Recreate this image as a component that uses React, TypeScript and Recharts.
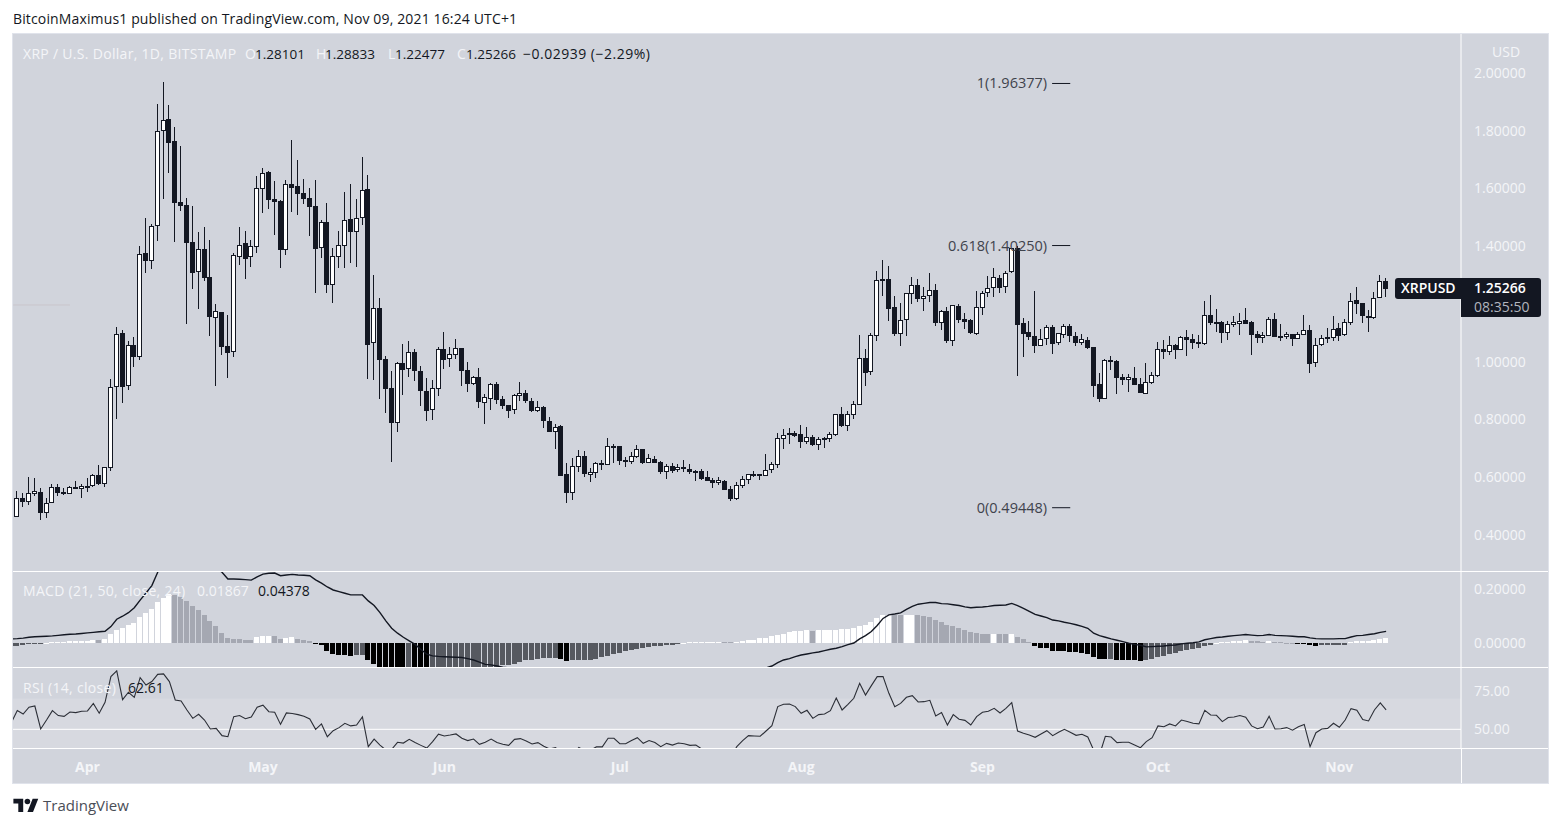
import {
  Bar,
  ComposedChart,
  Line,
  ReferenceArea,
  ReferenceLine,
  XAxis,
  YAxis,
} from 'recharts'

const opens = [
  0.464, 0.527, 0.515, 0.543, 0.548, 0.477, 0.51, 0.565, 0.548, 0.543,
  0.565, 0.56, 0.57, 0.571, 0.607, 0.578, 0.633, 0.914, 1.098, 0.917,
  1.057, 1.018, 1.375, 1.35, 1.469, 1.798, 1.84, 1.763, 1.552, 1.542,
  1.414, 1.312, 1.389, 1.292, 1.153, 1.171, 1.053, 1.035, 1.364, 1.41,
  1.362, 1.399, 1.599, 1.656, 1.564, 1.557, 1.388, 1.616, 1.609, 1.584,
  1.567, 1.539, 1.395, 1.484, 1.267, 1.364, 1.402, 1.494, 1.45, 1.499,
  1.598, 1.066, 1.186, 1.01, 0.909, 0.789, 0.996, 0.976, 1.034, 0.968,
  0.899, 0.834, 0.907, 1.044, 1.011, 1.025, 1.048, 0.971, 0.924, 0.947,
  0.858, 0.872, 0.922, 0.87, 0.849, 0.834, 0.883, 0.891, 0.863, 0.831,
  0.842, 0.794, 0.758, 0.776, 0.61, 0.547, 0.637, 0.672, 0.609, 0.616,
  0.648, 0.644, 0.707, 0.707, 0.66, 0.654, 0.671, 0.697, 0.65, 0.662,
  0.652, 0.619, 0.638, 0.626, 0.635, 0.627, 0.622, 0.62, 0.6, 0.589,
  0.581, 0.586, 0.558, 0.526, 0.571, 0.592, 0.61, 0.61, 0.605, 0.624,
  0.644, 0.731, 0.752, 0.752, 0.749, 0.723, 0.738, 0.713, 0.735, 0.734,
  0.747, 0.818, 0.779, 0.817, 0.851, 1.012, 0.966, 1.09, 1.285, 1.285,
  1.188, 1.097, 1.146, 1.236, 1.265, 1.216, 1.229, 1.247, 1.135, 1.175,
  1.073, 1.192, 1.147, 1.143, 1.097, 1.185, 1.237, 1.254, 1.289, 1.258,
  1.31, 1.393, 1.133, 1.102, 1.088, 1.056, 1.078, 1.119, 1.066, 1.094,
  1.123, 1.088, 1.066, 1.074, 1.05, 0.922, 0.872, 1.005, 1.001, 0.946,
  0.938, 0.943, 0.922, 0.889, 0.926, 0.952, 1.043, 1.035, 1.057, 1.042,
  1.085, 1.078, 1.067, 1.063, 1.161, 1.137, 1.137, 1.101, 1.128, 1.132,
  1.143, 1.137, 1.096, 1.083, 1.09, 1.147, 1.089, 1.087, 1.095, 1.08,
  1.094, 1.109, 0.997, 1.059, 1.083, 1.083, 1.116, 1.093, 1.135, 1.213,
  1.202, 1.157, 1.153, 1.222, 1.28101,
]

const highs = [
  0.554, 0.544, 0.602, 0.597, 0.562, 0.527, 0.577, 0.577, 0.562, 0.57,
  0.587, 0.575, 0.597, 0.61, 0.641, 0.634, 0.94, 1.12, 1.11, 1.072,
  1.086, 1.401, 1.498, 1.477, 1.893, 1.969, 1.889, 1.813, 1.747, 1.567,
  1.539, 1.448, 1.467, 1.422, 1.2, 1.171, 1.162, 1.377, 1.467, 1.453,
  1.422, 1.643, 1.671, 1.661, 1.626, 1.56, 1.629, 1.768, 1.699, 1.633,
  1.602, 1.629, 1.491, 1.55, 1.394, 1.453, 1.588, 1.616, 1.564, 1.709,
  1.647, 1.3, 1.221, 1.02, 0.968, 1.0, 1.061, 1.072, 1.044, 0.985,
  0.944, 0.937, 1.051, 1.103, 1.051, 1.079, 1.048, 1.0, 0.951, 0.978,
  0.888, 0.925, 0.93, 0.881, 0.849, 0.888, 0.93, 0.902, 0.874, 0.864,
  0.847, 0.809, 0.784, 0.781, 0.649, 0.667, 0.694, 0.691, 0.632, 0.653,
  0.66, 0.736, 0.715, 0.708, 0.67, 0.687, 0.712, 0.697, 0.68, 0.674,
  0.656, 0.646, 0.649, 0.646, 0.66, 0.646, 0.625, 0.627, 0.622, 0.597,
  0.601, 0.59, 0.57, 0.583, 0.604, 0.612, 0.622, 0.61, 0.68, 0.653,
  0.753, 0.767, 0.771, 0.76, 0.781, 0.774, 0.746, 0.741, 0.739, 0.757,
  0.818, 0.843, 0.828, 0.863, 1.093, 1.044, 1.1, 1.314, 1.352, 1.332,
  1.228, 1.203, 1.237, 1.294, 1.287, 1.259, 1.307, 1.269, 1.179, 1.19,
  1.195, 1.2, 1.169, 1.148, 1.245, 1.245, 1.297, 1.325, 1.3, 1.314,
  1.393, 1.402, 1.152, 1.141, 1.245, 1.112, 1.126, 1.126, 1.098, 1.13,
  1.13, 1.103, 1.096, 1.085, 1.05, 0.961, 1.01, 1.02, 1.006, 0.958,
  0.958, 0.982, 0.944, 0.996, 0.964, 1.068, 1.075, 1.089, 1.061, 1.089,
  1.11, 1.096, 1.093, 1.21, 1.231, 1.183, 1.14, 1.141, 1.158, 1.169,
  1.186, 1.141, 1.106, 1.103, 1.155, 1.169, 1.131, 1.103, 1.095, 1.103,
  1.162, 1.127, 1.082, 1.093, 1.117, 1.158, 1.134, 1.148, 1.238, 1.259,
  1.202, 1.178, 1.242, 1.3, 1.28833,
]

const lows = [
  0.464, 0.498, 0.504, 0.535, 0.452, 0.459, 0.51, 0.535, 0.539, 0.543,
  0.56, 0.528, 0.549, 0.567, 0.573, 0.566, 0.622, 0.802, 0.858, 0.902,
  0.983, 1.006, 1.309, 1.321, 1.418, 1.564, 1.655, 1.415, 1.523, 1.131,
  1.252, 1.183, 1.281, 1.089, 0.916, 1.023, 0.944, 1.018, 1.335, 1.287,
  1.328, 1.377, 1.515, 1.529, 1.439, 1.325, 1.37, 1.519, 1.508, 1.546,
  1.436, 1.238, 1.359, 1.238, 1.203, 1.325, 1.325, 1.342, 1.328, 1.474,
  0.94, 0.937, 0.871, 0.823, 0.653, 0.757, 0.885, 0.947, 0.933, 0.847,
  0.795, 0.798, 0.881, 0.975, 0.982, 1.01, 0.916, 0.895, 0.919, 0.84,
  0.784, 0.833, 0.854, 0.836, 0.805, 0.819, 0.864, 0.857, 0.826, 0.826,
  0.771, 0.757, 0.698, 0.604, 0.511, 0.521, 0.618, 0.601, 0.583, 0.597,
  0.625, 0.642, 0.649, 0.642, 0.635, 0.646, 0.667, 0.646, 0.649, 0.649,
  0.611, 0.594, 0.615, 0.618, 0.618, 0.611, 0.587, 0.59, 0.587, 0.563,
  0.573, 0.556, 0.518, 0.521, 0.563, 0.577, 0.601, 0.59, 0.604, 0.615,
  0.632, 0.698, 0.715, 0.739, 0.701, 0.715, 0.708, 0.694, 0.701, 0.722,
  0.743, 0.774, 0.76, 0.802, 0.851, 0.916, 0.954, 1.072, 1.228, 1.141,
  1.089, 1.055, 1.089, 1.2, 1.207, 1.176, 1.207, 1.124, 1.11, 1.065,
  1.055, 1.134, 1.113, 1.096, 1.093, 1.162, 1.224, 1.224, 1.238, 1.238,
  1.307, 0.951, 1.016, 1.075, 1.03, 1.055, 1.058, 1.027, 1.058, 1.082,
  1.068, 1.055, 1.058, 1.043, 0.878, 0.861, 0.871, 0.971, 0.888, 0.919,
  0.895, 0.919, 0.892, 0.888, 0.923, 0.947, 1.01, 1.023, 1.01, 1.041,
  1.02, 1.044, 1.048, 1.058, 1.127, 1.103, 1.065, 1.075, 1.12, 1.093,
  1.131, 1.023, 1.065, 1.065, 1.089, 1.086, 1.072, 1.079, 1.055, 1.079,
  1.093, 0.961, 0.982, 1.055, 1.065, 1.072, 1.072, 1.089, 1.127, 1.165,
  1.134, 1.103, 1.148, 1.221, 1.22477,
]

const closes = [
  0.527, 0.515, 0.544, 0.551, 0.477, 0.51, 0.565, 0.547, 0.543, 0.565,
  0.56, 0.569, 0.567, 0.607, 0.578, 0.634, 0.911, 1.095, 0.914, 1.057,
  1.018, 1.372, 1.35, 1.469, 1.798, 1.836, 1.759, 1.551, 1.541, 1.412,
  1.309, 1.389, 1.291, 1.156, 1.175, 1.052, 1.031, 1.369, 1.403, 1.357,
  1.4, 1.601, 1.653, 1.561, 1.554, 1.388, 1.614, 1.603, 1.582, 1.564,
  1.536, 1.392, 1.483, 1.266, 1.365, 1.403, 1.49, 1.449, 1.497, 1.594,
  1.059, 1.185, 1.006, 0.906, 0.788, 0.995, 0.971, 1.033, 0.968, 0.899,
  0.829, 0.908, 1.043, 1.006, 1.026, 1.046, 0.968, 0.923, 0.946, 0.861,
  0.877, 0.922, 0.869, 0.848, 0.831, 0.884, 0.891, 0.865, 0.831, 0.842,
  0.795, 0.758, 0.773, 0.604, 0.545, 0.638, 0.672, 0.611, 0.617, 0.648,
  0.644, 0.707, 0.702, 0.657, 0.657, 0.672, 0.697, 0.649, 0.665, 0.649,
  0.619, 0.638, 0.623, 0.634, 0.63, 0.618, 0.619, 0.595, 0.587, 0.581,
  0.589, 0.556, 0.525, 0.572, 0.593, 0.61, 0.608, 0.604, 0.624, 0.645,
  0.735, 0.747, 0.746, 0.744, 0.722, 0.738, 0.713, 0.731, 0.731, 0.749,
  0.818, 0.779, 0.818, 0.853, 1.012, 0.961, 1.092, 1.282, 1.281, 1.184,
  1.096, 1.143, 1.237, 1.265, 1.217, 1.227, 1.247, 1.135, 1.175, 1.072,
  1.195, 1.145, 1.139, 1.1, 1.188, 1.237, 1.254, 1.292, 1.257, 1.306,
  1.393, 1.127, 1.097, 1.087, 1.055, 1.078, 1.119, 1.063, 1.098, 1.123,
  1.09, 1.065, 1.078, 1.048, 0.917, 0.871, 1.005, 1.0, 0.944, 0.937,
  0.946, 0.919, 0.892, 0.929, 0.953, 1.043, 1.034, 1.057, 1.041, 1.085,
  1.075, 1.065, 1.061, 1.161, 1.134, 1.134, 1.1, 1.13, 1.137, 1.14,
  1.131, 1.093, 1.082, 1.092, 1.147, 1.086, 1.087, 1.095, 1.079, 1.095,
  1.109, 0.992, 1.057, 1.081, 1.086, 1.112, 1.089, 1.137, 1.209, 1.2,
  1.16, 1.153, 1.22, 1.281, 1.25266,
]

// the indicator series start one day earlier, that bar is cut by the left edge
const macdHist = [
  -0.0095,
  -0.0085, -0.007, -0.004, -0.002, -0.001, 0.002, 0.0035, 0.005, 0.006, 0.007,
  0.0075, 0.0085, 0.009, 0.011, 0.0105, 0.016, 0.033, 0.049, 0.055, 0.067,
  0.073, 0.0975, 0.11, 0.1255, 0.152, 0.167, 0.179, 0.177, 0.168, 0.155,
  0.138, 0.122, 0.104, 0.082, 0.063, 0.037, 0.0195, 0.017, 0.016, 0.012,
  0.011, 0.022, 0.027, 0.028, 0.027, 0.017, 0.021, 0.0215, 0.016, 0.012,
  0.0085, -0.002, -0.007, -0.028, -0.038, -0.043, -0.0435, -0.045, -0.044, -0.043,
  -0.061, -0.076, -0.091, -0.0975, -0.104, -0.11, -0.116, -0.113, -0.118, -0.122,
  -0.1255, -0.124, -0.121, -0.118, -0.115, -0.112, -0.11, -0.108, -0.106, -0.103,
  -0.1, -0.096, -0.09, -0.079, -0.0785, -0.074, -0.068, -0.062, -0.061, -0.057,
  -0.0536, -0.0535, -0.053, -0.057, -0.0646, -0.062, -0.061, -0.0605, -0.06, -0.056,
  -0.05, -0.045, -0.04, -0.034, -0.03, -0.023, -0.021, -0.017, -0.012, -0.01,
  -0.0085, -0.0073, -0.006, -0.0025, 0.001, 0.003, 0.0035, 0.0038, 0.004, 0.0043,
  0.0045, 0.004, 0.0035, 0.004, 0.01, 0.011, 0.0134, 0.018, 0.0207, 0.027,
  0.0305, 0.034, 0.04, 0.044, 0.045, 0.049, 0.046, 0.049, 0.0492, 0.0494,
  0.0496, 0.0524, 0.0526, 0.056, 0.062, 0.066, 0.078, 0.0926, 0.1036, 0.1048,
  0.103, 0.102, 0.103, 0.1036, 0.1032, 0.1012, 0.0975, 0.0853, 0.078, 0.067,
  0.0646, 0.0573, 0.0488, 0.0414, 0.0378, 0.0341, 0.0335, 0.034, 0.0335, 0.0333,
  0.0341, 0.0232, 0.0146, 0.0049, -0.0097, -0.0158, -0.0183, -0.0268, -0.028, -0.0286,
  -0.0305, -0.0329, -0.0366, -0.0402, -0.0488, -0.0573, -0.0579, -0.0573, -0.0609, -0.0613,
  -0.0617, -0.0622, -0.0646, -0.0609, -0.0573, -0.05, -0.0451, -0.0402, -0.0353, -0.0292,
  -0.0244, -0.0207, -0.0171, -0.0097, -0.0061, 0.0024, 0.0037, 0.0049, 0.0085, 0.0097,
  0.0122, 0.0097, 0.0085, 0.0049, 0.0085, 0.0061, 0.0037, 0.0024, 0.0006, -0.0012,
  -0.0024, -0.0073, -0.0085, -0.0073, -0.0061, -0.0058, -0.0055, -0.0049, 0.0037, 0.0073,
  0.0075, 0.0077, 0.011, 0.0158, 0.01867,
]

const macdLine = [
  0.016,
  0.017, 0.019, 0.022, 0.024, 0.025, 0.026, 0.027, 0.029, 0.031, 0.033,
  0.034, 0.036, 0.038, 0.04, 0.042, 0.044, 0.061, 0.088, 0.099, 0.112,
  0.13, 0.158, 0.184, 0.211, 0.26, 0.3, 0.33, 0.345, 0.35, 0.345,
  0.335, 0.32, 0.305, 0.29, 0.275, 0.26, 0.235, 0.235, 0.234, 0.233,
  0.231, 0.243, 0.253, 0.256, 0.257, 0.247, 0.25, 0.252, 0.25, 0.249,
  0.247, 0.232, 0.22, 0.206, 0.195, 0.189, 0.183, 0.177, 0.177, 0.177,
  0.155, 0.138, 0.112, 0.082, 0.055, 0.037, 0.022, 0.009, -0.004, -0.023,
  -0.04, -0.046, -0.048, -0.049, -0.05, -0.051, -0.052, -0.056, -0.061, -0.069,
  -0.077, -0.079, -0.083, -0.087, -0.09, -0.093, -0.096, -0.099, -0.102, -0.105,
  -0.108, -0.112, -0.118, -0.126, -0.134, -0.14, -0.145, -0.15, -0.153, -0.156,
  -0.158, -0.16, -0.16, -0.159, -0.158, -0.156, -0.154, -0.152, -0.15, -0.148,
  -0.146, -0.144, -0.142, -0.14, -0.138, -0.136, -0.134, -0.132, -0.129, -0.127,
  -0.125, -0.122, -0.119, -0.116, -0.112, -0.108, -0.103, -0.098, -0.09, -0.083,
  -0.071, -0.061, -0.056, -0.049, -0.043, -0.039, -0.035, -0.032, -0.027, -0.022,
  -0.018, -0.012, -0.005, 0.001, 0.016, 0.028, 0.043, 0.065, 0.091, 0.104,
  0.107, 0.111, 0.124, 0.135, 0.143, 0.146, 0.149, 0.149, 0.145, 0.144,
  0.141, 0.138, 0.133, 0.13, 0.132, 0.133, 0.135, 0.138, 0.139, 0.14,
  0.146, 0.138, 0.128, 0.117, 0.106, 0.1, 0.094, 0.085, 0.082, 0.077,
  0.073, 0.068, 0.062, 0.055, 0.037, 0.028, 0.022, 0.016, 0.011, 0.006,
  0.0, -0.004, -0.007, -0.013, -0.012, -0.011, -0.01, -0.007, -0.006, -0.002,
  0.0, 0.002, 0.005, 0.013, 0.017, 0.021, 0.023, 0.026, 0.028, 0.03,
  0.032, 0.03, 0.028, 0.029, 0.032, 0.029, 0.028, 0.027, 0.026, 0.024,
  0.024, 0.02, 0.017, 0.016, 0.016, 0.016, 0.017, 0.017, 0.023, 0.028,
  0.029, 0.032, 0.035, 0.04, 0.04378,
]

const rsiValues = [
  54.5,
  62.1, 59.9, 64.3, 65.1, 50.2, 56.0, 62.1, 58.9, 58.4, 61.2,
  60.8, 61.7, 61.9, 66.8, 60.4, 67.5, 84.1, 87.8, 69.2, 74.0,
  70.7, 83.5, 78.7, 80.9, 85.6, 85.9, 80.9, 69.0, 68.4, 62.5,
  57.1, 59.7, 56.0, 50.2, 50.6, 45.9, 45.2, 58.2, 58.9, 56.9,
  58.0, 64.3, 65.6, 61.4, 61.0, 53.2, 60.6, 60.2, 59.5, 58.4,
  56.7, 50.0, 53.5, 45.2, 49.1, 51.1, 53.9, 52.2, 52.8, 58.0,
  38.8, 43.7, 39.8, 36.6, 37.0, 41.6, 41.1, 43.5, 41.4, 39.6,
  37.9, 42.0, 46.8, 45.7, 46.3, 47.0, 44.2, 42.7, 43.7, 40.3,
  41.6, 43.7, 41.4, 40.3, 39.6, 43.5, 44.0, 42.4, 40.5, 41.4,
  39.0, 37.3, 38.1, 35.5, 32.9, 33.4, 38.3, 36.0, 36.6, 38.6,
  38.6, 44.2, 44.2, 40.7, 40.7, 42.7, 44.6, 40.9, 42.7, 41.4,
  38.8, 40.9, 39.8, 41.1, 40.7, 39.6, 39.8, 37.3, 35.1, 32.3,
  29.0, 29.5, 32.3, 38.8, 42.7, 45.9, 45.7, 45.5, 48.9, 52.4,
  64.7, 66.2, 66.4, 64.7, 60.4, 62.3, 57.1, 59.5, 59.9, 62.1,
  70.3, 62.5, 66.2, 70.1, 79.8, 72.2, 78.3, 84.1, 84.1, 73.3,
  64.7, 66.8, 70.7, 71.8, 67.7, 67.9, 68.8, 58.6, 60.8, 52.8,
  59.5, 56.5, 55.8, 52.8, 58.2, 61.0, 61.7, 63.6, 60.6, 63.6,
  67.3, 48.9, 47.4, 46.3, 44.8, 47.0, 49.1, 45.9, 48.1, 50.0,
  48.1, 46.1, 46.8, 45.0, 36.6, 33.4, 45.5, 45.0, 41.4, 41.6,
  41.6, 39.8, 38.1, 42.0, 44.6, 52.2, 51.7, 53.5, 52.2, 56.0,
  55.0, 53.9, 53.5, 62.3, 59.3, 59.1, 55.0, 57.6, 58.0, 58.9,
  57.8, 52.2, 50.4, 51.5, 58.4, 50.2, 50.4, 51.1, 49.4, 51.7,
  53.2, 38.8, 47.8, 50.2, 50.6, 53.9, 51.3, 56.0, 63.4, 62.3,
  56.3, 55.4, 62.5, 67.1, 62.61,
]

const priceTicks = [0.4, 0.6, 0.8, 1.0, 1.4, 1.6, 1.8, 2.0]
const macdTicks = [0, 0.2]
const rsiTicks = [50, 75]
const monthLabels = ['Apr', 'May', 'Jun', 'Jul', 'Aug', 'Sep', 'Oct', 'Nov']
const monthStarts = [12, 42, 73, 103, 134, 165, 195, 226]
const fibLabels = ['1(1.96377)', '0.618(1.40250)', '0(0.49448)']
const fibPrices = [1.96377, 1.4025, 0.49448]

const candles = opens.map((open, i) => ({
  i,
  open,
  high: highs[i],
  low: lows[i],
  close: closes[i],
  range: [lows[i], highs[i]],
}))

const macdRows = macdHist.map((hist, k) => ({
  i: k - 1,
  hist,
  macd: macdLine[k],
  rising: k === 0 || hist >= macdHist[k - 1],
}))

const rsiRows = rsiValues.map((rsi, k) => ({ i: k - 1, rsi }))

const DARK = '#131722'
const PANEL = '#d1d4dc'
const AXIS_TEXT = '#f4f5f8'
const FONT = '"Open Sans", sans-serif'
const X_DOMAIN = [-0.735, 246.8]
const AXIS_WIDTH = 87

function Candle({ x, y, width, height, payload }: any) {
  const { open, high, low, close } = payload
  const top = Math.min(y, y + height)
  const span = Math.abs(height)
  const yOf = (p: number) => top + ((high - p) / (high - low)) * span
  const cx = Math.floor(x + width / 2)
  const bodyTop = Math.round(yOf(Math.max(open, close)))
  const bodyBottom = Math.max(Math.round(yOf(Math.min(open, close))), bodyTop + 2)
  const up = close >= open
  return (
    <g shapeRendering="crispEdges">
      <rect x={cx} y={top} width={1} height={span} fill={DARK} />
      <rect
        x={cx - 1.5}
        y={bodyTop + 0.5}
        width={4}
        height={bodyBottom - bodyTop - 1}
        fill={up ? '#ffffff' : DARK}
        stroke={DARK}
        strokeWidth={1}
      />
    </g>
  )
}

function HistBar({ x, y, width, height, payload }: any) {
  const cx = Math.floor(x + width / 2)
  const top = Math.min(y, y + height)
  let fill = payload.rising ? '#ffffff' : '#a5a8b2'
  if (payload.hist < 0) fill = payload.rising ? '#565960' : '#000000'
  return (
    <rect
      x={cx - 2}
      y={top}
      width={5}
      height={Math.max(Math.abs(height), 1)}
      fill={fill}
      shapeRendering="crispEdges"
    />
  )
}

function FibLabel({ viewBox, text }: any) {
  return (
    <text
      x={viewBox.x - 5}
      y={viewBox.y + 5}
      textAnchor="end"
      fontSize={14.5}
      fontFamily={FONT}
      fill="#3f434c"
    >
      {text}
    </text>
  )
}

const axisTick = { fill: AXIS_TEXT, fontSize: 14, fontFamily: FONT }

function Txt({ x, y, color, size = 14, weight = 400, spacing = 0, children }: any) {
  return (
    <div
      style={{
        position: 'absolute',
        left: x,
        top: y,
        color,
        fontSize: size,
        fontWeight: weight,
        fontFamily: FONT,
        letterSpacing: spacing,
        lineHeight: '18px',
        whiteSpace: 'nowrap',
      }}
    >
      {children}
    </div>
  )
}

export default function App() {
  return (
    <div style={{ position: 'absolute', left: 0, top: 0, width: 1561, height: 827, background: '#fff', overflow: 'hidden' }}>
      <Txt x={13} y={10} color={DARK} spacing={0.14}>
        BitcoinMaximus1 published on TradingView.com, Nov 09, 2021 16:24 UTC+1
      </Txt>

      <div style={{ position: 'absolute', left: 12, top: 33, width: 1535, height: 749, background: PANEL, border: '1px solid #e0e3eb' }} />

      <div style={{ position: 'absolute', left: 13, top: 34 }}>
        <ComposedChart width={1535} height={537} data={candles} margin={{ top: 0, right: 0, bottom: 0, left: 0 }}>
          <XAxis dataKey="i" type="number" domain={X_DOMAIN} allowDataOverflow hide />
          <YAxis
            orientation="right"
            width={AXIS_WIDTH}
            domain={[0.2753, 2.1351]}
            allowDataOverflow
            ticks={priceTicks}
            tickFormatter={(v: number) => v.toFixed(5)}
            tick={axisTick}
            tickLine={false}
            tickSize={0}
            tickMargin={13}
            axisLine={{ stroke: '#ffffff' }}
          />
          <ReferenceLine
            segment={[{ x: -0.7, y: 1.1965 }, { x: 9, y: 1.1965 }]}
            stroke="#c9c5cb"
          />
          {fibPrices.map((price, k) => (
            <ReferenceLine
              key={price}
              segment={[{ x: 176.9, y: price }, { x: 180, y: price }]}
              stroke={DARK}
              label={<FibLabel text={fibLabels[k]} />}
            />
          ))}
          <Bar dataKey="range" barSize={5} shape={<Candle />} isAnimationActive={false} />
        </ComposedChart>
      </div>

      <div style={{ position: 'absolute', left: 13, top: 571 }}>
        <ComposedChart width={1535} height={96} data={macdRows} margin={{ top: 0, right: 0, bottom: 0, left: 0 }}>
          <XAxis dataKey="i" type="number" domain={X_DOMAIN} allowDataOverflow hide />
          <YAxis
            orientation="right"
            width={AXIS_WIDTH}
            domain={[-0.0867, 0.2644]}
            allowDataOverflow
            ticks={macdTicks}
            tickFormatter={(v: number) => v.toFixed(5)}
            tick={axisTick}
            tickLine={false}
            tickSize={0}
            tickMargin={13}
            axisLine={{ stroke: '#ffffff' }}
          />
          <Bar dataKey="hist" barSize={5} shape={<HistBar />} isAnimationActive={false} />
          <Line dataKey="macd" type="linear" stroke={DARK} strokeWidth={1.4} dot={false} isAnimationActive={false} />
        </ComposedChart>
      </div>

      <div style={{ position: 'absolute', left: 13, top: 667 }}>
        <ComposedChart width={1535} height={116} data={rsiRows} margin={{ top: 0, right: 0, bottom: 0, left: 0 }}>
          <XAxis
            dataKey="i"
            type="number"
            domain={X_DOMAIN}
            allowDataOverflow
            height={35}
            ticks={monthStarts}
            tickFormatter={(v: number) => monthLabels[monthStarts.indexOf(v)]}
            tick={{ ...axisTick, fontWeight: 700 }}
            tickLine={false}
            tickSize={0}
            tickMargin={14}
            axisLine={false}
          />
          <YAxis
            orientation="right"
            width={AXIS_WIDTH}
            domain={[37.9, 90.35]}
            allowDataOverflow
            ticks={rsiTicks}
            tickFormatter={(v: number) => v.toFixed(2)}
            tick={axisTick}
            tickLine={false}
            tickSize={0}
            tickMargin={13}
            axisLine={{ stroke: '#ffffff' }}
          />
          <ReferenceArea y1={37.9} y2={70} fill="#ffffff" fillOpacity={0.13} stroke="none" />
          <ReferenceLine y={50} stroke="#ffffff" />
          <Line dataKey="rsi" type="linear" stroke="#2b2e36" strokeWidth={1.1} dot={false} isAnimationActive={false} />
        </ComposedChart>
      </div>

      <div style={{ position: 'absolute', left: 13, top: 571, width: 1535, height: 1, background: '#fff' }} />
      <div style={{ position: 'absolute', left: 13, top: 667, width: 1535, height: 1, background: '#fff' }} />
      <div style={{ position: 'absolute', left: 13, top: 748, width: 1535, height: 1, background: '#fff' }} />
      <div style={{ position: 'absolute', left: 1461, top: 748, width: 1, height: 35, background: '#fff' }} />

      <Txt x={23} y={45} color={AXIS_TEXT} spacing={0.3}>XRP / U.S. Dollar, 1D, BITSTAMP</Txt>
      <Txt x={245} y={45} color={AXIS_TEXT}>O</Txt>
      <Txt x={255} y={45} color={DARK} size={13.5}>1.28101</Txt>
      <Txt x={316} y={45} color={AXIS_TEXT}>H</Txt>
      <Txt x={325} y={45} color={DARK} size={13.5}>1.28833</Txt>
      <Txt x={388} y={45} color={AXIS_TEXT}>L</Txt>
      <Txt x={395} y={45} color={DARK} size={13.5}>1.22477</Txt>
      <Txt x={457} y={45} color={AXIS_TEXT}>C</Txt>
      <Txt x={466} y={45} color={DARK} size={13.5}>1.25266</Txt>
      <Txt x={523} y={45} color={DARK} spacing={0.5}>−0.02939 (−2.29%)</Txt>
      <Txt x={1492} y={43} color={AXIS_TEXT}>USD</Txt>

      <Txt x={23} y={582} color={AXIS_TEXT} spacing={0.3}>MACD (21, 50, close, 24)</Txt>
      <Txt x={197} y={582} color={AXIS_TEXT}>0.01867</Txt>
      <Txt x={258} y={582} color={DARK}>0.04378</Txt>
      <Txt x={23} y={679} color={AXIS_TEXT} spacing={0.3}>RSI (14, close)</Txt>
      <Txt x={128} y={679} color={DARK}>62.61</Txt>

      <div style={{ position: 'absolute', left: 1395, top: 278, width: 66, height: 21, background: DARK, borderRadius: '3px 0 0 3px' }} />
      <div style={{ position: 'absolute', left: 1461, top: 278, width: 80, height: 39, background: DARK, borderRadius: '0 3px 3px 0' }} />
      <Txt x={1401} y={279} color="#ffffff" weight={600}>XRPUSD</Txt>
      <Txt x={1474} y={279} color="#ffffff" weight={600}>1.25266</Txt>
      <Txt x={1474} y={298} color="#b2b5be">08:35:50</Txt>

      <svg style={{ position: 'absolute', left: 13, top: 798 }} width={26} height={14} viewBox="0 0 36 20">
        <path d="M14 20H7V8H0V1h14v19zM28 20h-8l7.5-19h8L28 20z" fill={DARK} />
        <circle cx={20} cy={5} r={4} fill={DARK} />
      </svg>
      <Txt x={43} y={796} color="#4a4e57" size={15}>TradingView</Txt>
    </div>
  )
}
